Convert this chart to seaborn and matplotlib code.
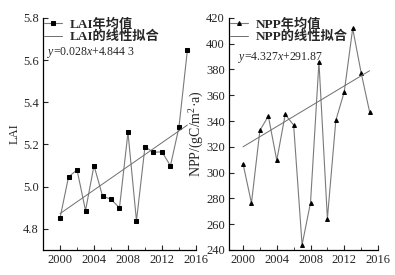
import numpy as np
import pandas as pd
import seaborn as sns
import matplotlib.pyplot as plt

sns.set_theme(style="ticks")
plt.rcParams['font.family'] = ['Liberation Serif', 'Noto Sans CJK SC']
plt.rcParams['mathtext.fontset'] = 'custom'
plt.rcParams['mathtext.rm'] = 'Liberation Serif'
plt.rcParams['mathtext.it'] = 'Liberation Serif:italic'

years = list(range(2000, 2016))
lai = [4.852, 5.046, 5.080, 4.887, 5.100, 4.956, 4.940, 4.900,
       5.257, 4.838, 5.189, 5.163, 5.165, 5.099, 5.281, 5.649]
npp = [306.9, 276.4, 332.7, 343.8, 309.5, 345.1, 336.8, 243.9,
       276.7, 385.9, 264.3, 340.5, 362.7, 411.8, 377.4, 347.2]
lai_fit = [0.028, 4.8443]          # slope, intercept (x = 1..16)
npp_fit_ends = [320.0, 379.0]      # fitted line as drawn, 2000 and 2015

df = pd.DataFrame({'year': years, 'LAI': lai, 'NPP': npp})
idx = np.arange(1, len(years) + 1)
df['LAI_fit'] = lai_fit[0] * idx + lai_fit[1]
df_npp_fit = pd.DataFrame({'year': [years[0], years[-1]], 'NPP_fit': npp_fit_ends})

fig = plt.figure(figsize=(3.95, 2.75), dpi=100)
ax1 = fig.add_axes([0.109, 0.091, 0.387, 0.844])
ax2 = fig.add_axes([0.580, 0.091, 0.377, 0.844])

data_color = '#7a7a7a'
fit_color = '#6e6e6e'

sns.lineplot(data=df, x='year', y='LAI', ax=ax1, color=data_color, lw=0.8,
             marker='s', markersize=2.3, markerfacecolor='black',
             markeredgecolor='black', label='LAI年均值')
sns.lineplot(data=df, x='year', y='LAI_fit', ax=ax1, color=fit_color, lw=0.7,
             label='LAI的线性拟合')
ax1.set_xlim(1998, 2016)
ax1.set_ylim(4.7, 5.8)
ax1.set_yticks([4.8, 5.0, 5.2, 5.4, 5.6, 5.8])
ax1.set_ylabel('LAI', fontsize=9, labelpad=2)
ax1.text(1998.45, 5.625, r'$y$=0.028$x$+4.844 3', fontsize=8.5)

sns.lineplot(data=df, x='year', y='NPP', ax=ax2, color=data_color, lw=0.8,
             marker='^', markersize=2.8, markerfacecolor='black',
             markeredgecolor='black', label='NPP年均值')
sns.lineplot(data=df_npp_fit, x='year', y='NPP_fit', ax=ax2, color=fit_color,
             lw=0.7, label='NPP的线性拟合')
ax2.set_xlim(1998.35, 2016)
ax2.set_ylim(240, 420)
ax2.set_yticks(range(240, 421, 20))
ax2.set_ylabel('NPP/(gC/m$^2$·a)', fontsize=10, labelpad=0)
ax2.text(1999.4, 387, r'$y$=4.327$x$+291.87', fontsize=8.5)

for ax in (ax1, ax2):
    ax.set_xlabel('')
    ax.set_xticks([2000, 2004, 2008, 2012, 2016])
    ax.set_xticks([2002, 2006, 2010, 2014], minor=True)
    ax.tick_params(direction='in', length=3.5, width=0.8, labelsize=9, pad=3)
    ax.tick_params(which='minor', direction='in', length=2, width=0.6)
    for s in ('top', 'right'):
        ax.spines[s].set_visible(False)
    for s in ('left', 'bottom'):
        ax.spines[s].set_linewidth(0.9)
        ax.spines[s].set_color('black')
    lines = ax.get_lines()[:2]
    leg = ax.legend(handles=lines, labels=[l.get_label() for l in lines],
                    loc='upper left', frameon=False, fontsize=9.5, numpoints=1,
                    handlelength=1.4, handletextpad=0.6, labelspacing=0.0,
                    borderaxespad=0.0, borderpad=0.05)
    for t in leg.get_texts():
        t.set_fontweight('bold')

fig.savefig('out.png', dpi=100)
